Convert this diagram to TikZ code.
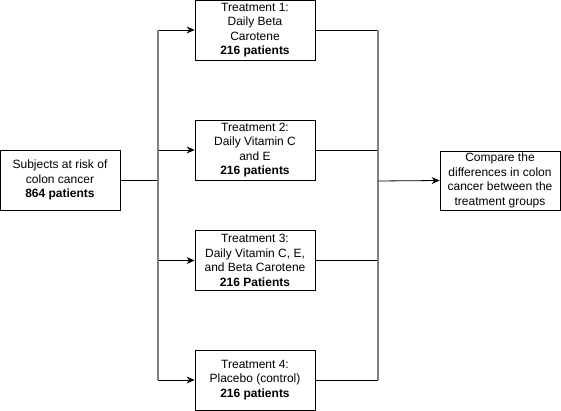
\documentclass[tikz,border=0pt]{standalone}
\usepackage{fontspec}
\setmainfont{Liberation Sans}
\usetikzlibrary{arrows.meta}
\definecolor{bargray}{HTML}{808080}
\begin{document}
\begin{tikzpicture}[x=1pt,y=-1pt,
    box/.style={draw,line width=0.8pt,minimum width=120pt,minimum height=60pt,inner sep=0pt,align=center,font=\fontsize{12}{14.5}\selectfont},
    link/.style={line width=0.8pt},
    arr/.style={link,-{Stealth[length=8pt,width=7pt]}},
    bar/.style={draw=bargray,line width=1.6pt}]
    \useasboundingbox (0,0) rectangle (561,411);
    %boxes
    \node[box] (subj) at (60,180) {Subjects at risk of\\colon cancer\\\textbf{864 patients}};
    \node[box] (tone) at (255,30) {Treatment 1:\\Daily Beta\\Carotene\\\textbf{216 patients}};
    \node[box] (ttwo) at (255,150) {Treatment 2:\\Daily Vitamin C\\and E\\\textbf{216 patients}};
    \node[box] (tthree) at (255,260.5) {Treatment 3:\\Daily Vitamin C, E,\\and Beta Carotene\\\textbf{216 Patients}};
    \node[box] (tfour) at (255,380) {Treatment 4:\\Placebo (control)\\\textbf{216 patients}};
    \node[box,minimum height=59pt] (cmp) at (500,180.5) {Compare the\\differences in colon\\cancer between the\\treatment groups};
    %split and join points
    \coordinate (splitL) at (158,180);
    \coordinate (joinR) at (378,181);
    %lines from the subjects box to the treatments
    \draw[link] (subj.east) -- (splitL);
    \foreach \t in {tone,ttwo,tthree,tfour}
        \draw[arr] (\t.west -| splitL) -- (\t.west);
    \draw[bar] (tone.west -| splitL) -- (tfour.west -| splitL);
    %lines from the treatments to the comparison
    \foreach \t in {tone,ttwo,tthree,tfour}
        \draw[link] (\t.east) -- (\t.east -| joinR);
    \draw[bar] (tone.east -| joinR) -- (tfour.east -| joinR);
    \draw[arr] (joinR) -- (cmp.west);
\end{tikzpicture}
\end{document}
